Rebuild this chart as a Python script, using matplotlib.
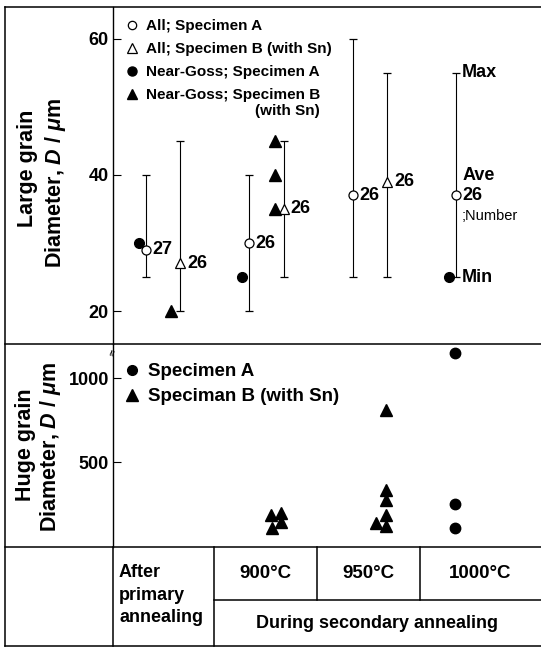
import matplotlib
matplotlib.use("Agg")
from matplotlib import pyplot as plt
from matplotlib.lines import Line2D

plt.rcParams['font.family'] = ['Liberation Sans', 'DejaVu Sans']
plt.rcParams['font.weight'] = 'bold'
plt.rcParams['mathtext.fontset'] = 'custom'
plt.rcParams['mathtext.rm'] = 'Liberation Sans:bold'
plt.rcParams['mathtext.it'] = 'Liberation Sans:italic:bold'

# table columns (annealing stages)
stages = ["900°C", "950°C", "1000°C"]
stage_first = "After\nprimary\nannealing"
stage_group = "During secondary annealing"

# large grains, all grains: specimen A
a_ave = [29, 30, 37, 37]
a_min = [25, 20, 25, 25]
a_max = [40, 40, 60, 55]
a_num = [27, 26, 26, 26]

# large grains, all grains: specimen B (with Sn), no 1000C data
b_ave = [27, 35, 39]
b_min = [20, 25, 25]
b_max = [45, 45, 55]
b_num = [26, 26, 26]

# near-Goss grains
goss_a_stage = [0, 1, 3]
goss_a = [30, 25, 25]
goss_b_stage = [0, 1, 1, 1]
goss_b = [20, 45, 40, 35]

# huge grains
huge_a_stage = [3, 3, 3]
huge_a = [1150, 250, 110]
huge_b_stage = [1, 1, 1, 1, 2, 2, 2, 2, 2, 2]
huge_b = [186, 196, 146, 107, 810, 335, 276, 186, 140, 121]
huge_b_jit = [0.05, 0.15, 0.15, 0.06, 0.16, 0.16, 0.16, 0.16, 0.065, 0.16]

W, H = 541, 649


def fx(x):
    return x / W


def fy(y):
    return 1 - y / H


fig = plt.figure(figsize=(W / 100, H / 100), dpi=100)

ax1 = fig.add_axes([fx(113), fy(344), fx(541) - fx(113), fy(7) - fy(344)])
ax2 = fig.add_axes([fx(113), fy(547), fx(541) - fx(113), fy(344) - fy(547)])

for ax in (ax1, ax2):
    for s in ('top', 'right', 'bottom'):
        ax.spines[s].set_visible(False)
    ax.spines['left'].set_linewidth(1.0)
    ax.set_xticks([])
    ax.set_xlim(-0.473, 3.662)
    ax.tick_params(axis='y', direction='in', length=6, width=0.8,
                   labelsize=13, pad=3)
    ax.patch.set_alpha(0)

ax1.set_ylim(15.15, 64.7)
ax1.set_yticks([20, 40, 60])
ax2.set_ylim(-4, 1204)
ax2.set_yticks([500, 1000])

# all grains, specimen A
xa = [i - 0.155 for i in range(len(a_ave))]
ax1.errorbar(xa, a_ave,
             yerr=[[a - m for a, m in zip(a_ave, a_min)],
                   [m - a for a, m in zip(a_ave, a_max)]],
             fmt='o', mfc='white', mec='black', ecolor='black', ms=6.5,
             mew=0.9, elinewidth=0.8, capsize=3.2, capthick=0.8, zorder=3)
# all grains, specimen B
xb = [i + 0.175 for i in range(len(b_ave))]
ax1.errorbar(xb, b_ave,
             yerr=[[a - m for a, m in zip(b_ave, b_min)],
                   [m - a for a, m in zip(b_ave, b_max)]],
             fmt='^', mfc='white', mec='black', ecolor='black', ms=7.5,
             mew=0.9, elinewidth=0.8, capsize=3.2, capthick=0.8, zorder=3)

ax1.plot([s - 0.225 for s in goss_a_stage], goss_a, 'o', color='black',
         ms=7, zorder=4)
ax1.plot([s + 0.09 for s in goss_b_stage], goss_b, '^', color='black',
         ms=8.5, zorder=4)

for x, y, n in zip(xa, a_ave, a_num):
    ax1.annotate(str(n), (x, y), xytext=(4.5, 0), textcoords='offset points',
                 va='center', ha='left', fontsize=13)
for x, y, n in zip(xb, b_ave, b_num):
    ax1.annotate(str(n), (x, y), xytext=(5, 0), textcoords='offset points',
                 va='center', ha='left', fontsize=13)

# key on the 1000C bar
ax1.annotate("Max", (xa[3], a_max[3]), xytext=(4, 0),
             textcoords='offset points', va='center', fontsize=13)
ax1.annotate("Min", (xa[3], a_min[3]), xytext=(4, 0),
             textcoords='offset points', va='center', fontsize=13)
ax1.annotate("Ave", (xa[3], a_ave[3]), xytext=(4.5, 14.5),
             textcoords='offset points', va='center', fontsize=13)
ax1.annotate(";Number", (xa[3], a_ave[3]), xytext=(3.5, -14.5),
             textcoords='offset points', va='center', fontsize=10.5,
             fontweight='normal')

handles = [
    Line2D([], [], marker='o', ls='none', mfc='white', mec='black', ms=6, mew=0.9),
    Line2D([], [], marker='^', ls='none', mfc='white', mec='black', ms=7, mew=0.9),
    Line2D([], [], marker='o', ls='none', color='black', ms=6.5),
    Line2D([], [], marker='^', ls='none', color='black', ms=7.5),
]
labels = ["All; Specimen A", "All; Specimen B (with Sn)",
          "Near-Goss; Specimen A", "Near-Goss; Specimen B"]
leg = ax1.legend(handles, labels, loc='upper left',
                 bbox_to_anchor=(0.03, 0.963), frameon=False, fontsize=11,
                 handlelength=0.8, handletextpad=0.5, labelspacing=0.58,
                 borderaxespad=0, borderpad=0)

# place the second line of the last legend entry under its first line
fig.canvas.draw()
last = leg.get_texts()[3].get_window_extent()
fig.text(last.x1 / (W), (last.y0 - 2) / H, "(with Sn)", ha='right', va='top',
         fontsize=11)

# huge grains
ax2.plot([s - 0.17 for s in huge_a_stage], huge_a, 'o', color='black', ms=7.5)
ax2.plot([s + j for s, j in zip(huge_b_stage, huge_b_jit)], huge_b, '^',
         color='black', ms=8.5)
handles2 = [Line2D([], [], marker='o', ls='none', color='black', ms=7),
            Line2D([], [], marker='^', ls='none', color='black', ms=8)]
ax2.legend(handles2, ["Specimen A", "Speciman B (with Sn)"], loc='upper left',
           bbox_to_anchor=(0.03, 0.905), frameon=False, fontsize=13.5,
           handlelength=0.7, handletextpad=0.5, labelspacing=0.42,
           borderaxespad=0, borderpad=0)
ax2.text(0, 0.955, "≈", transform=ax2.transAxes, rotation=75, fontsize=8,
         ha='center', va='center')

# axis titles
fig.text(fx(27), fy(168), "Large grain", rotation=90, ha='center',
         va='center', fontsize=15.5)
fig.text(fx(55), fy(183), r"Diameter, $D$ / $\mu$m", rotation=90,
         ha='center', va='center', fontsize=15.5)
fig.text(fx(25), fy(445), "Huge grain", rotation=90, ha='center',
         va='center', fontsize=15.5)
fig.text(fx(51), fy(447), r"Diameter, $D$ / $\mu$m", rotation=90,
         ha='center', va='center', fontsize=15.5)

# frame and table rules
rules = [((5, 541), (7, 7)), ((5, 5), (7, 646)), ((5, 541), (646, 646)),
         ((5, 541), (344, 344)), ((5, 541), (547, 547)),
         ((113, 113), (547, 646)), ((214, 214), (547, 646)),
         ((317, 317), (547, 600)), ((420, 420), (547, 600)),
         ((214, 541), (600, 600))]
for xs, ys in rules:
    fig.add_artist(Line2D([fx(v) for v in xs], [fy(v) for v in ys],
                          color='black', lw=1.1))

fig.text(fx(119), fy(595), stage_first, ha='left', va='center', fontsize=13,
         linespacing=1.45)
for xc, lab in zip([265.5, 368.5, 480.5], stages):
    fig.text(fx(xc), fy(573), lab, ha='center', va='center', fontsize=13.5)
fig.text(fx(377), fy(624), stage_group, ha='center', va='center', fontsize=13)

fig.savefig("out.png", dpi=100)
